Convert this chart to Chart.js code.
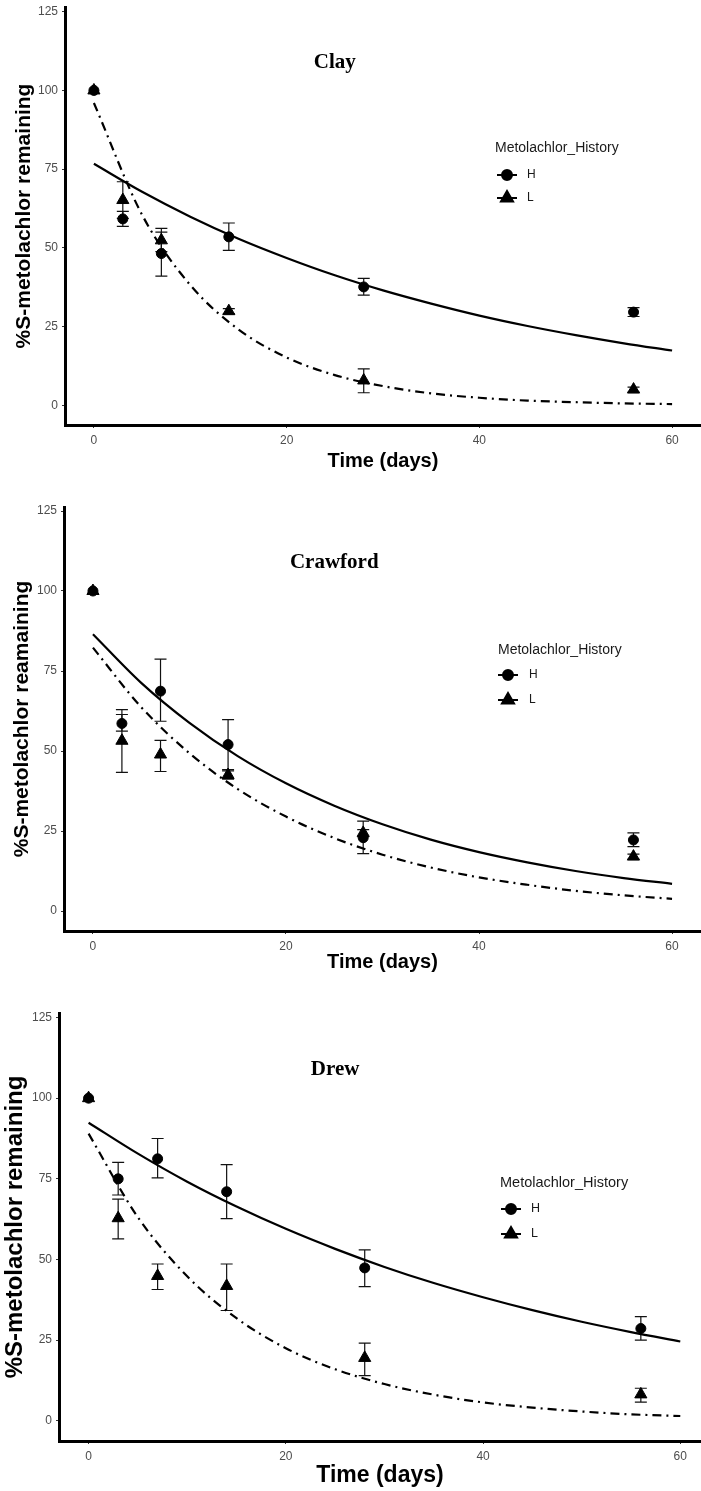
<!DOCTYPE html>
<html lang="en">
<head>
<meta charset="utf-8">
<title>%S-metolachlor remaining</title>
<script src="https://cdn.jsdelivr.net/npm/chart.js@4.4.1/dist/chart.umd.min.js"></script>
<style>
  html, body { margin: 0; padding: 0; background: #fff; }
  #wrap { width: 701px; height: 1491px; }
  canvas { display: block; }
</style>
</head>
<body>
<div id="wrap">
  <canvas id="clayChart" width="701" height="480"></canvas>
  <canvas id="crawfordChart" width="701" height="505"></canvas>
  <canvas id="drewChart" width="701" height="506"></canvas>
</div>
<script>
/* courbes de dissipation du S-metolachlor – trois sols
   1. points moyens + barres d'erreur
   2. courbes ajustées (H trait plein, L tiret-point) */

/* données communes */
const days = [0, 3, 7, 14, 28, 56];
const fitDays = [0, 5, 10, 15, 20, 25, 30, 35, 40, 45, 50, 55, 60];
const xTicks = [0, 20, 40, 60];
const yTicks = [0, 25, 50, 75, 100, 125];
const legendTitle = "Metolachlor_History";
const groups = ["H", "L"];

/* Clay */
const clayH = [100, 59.2, 48.2, 53.5, 37.6, 29.6];
const clayHLo = [100, 56.8, 41.0, 49.2, 35.0, 28.2];
const clayHHi = [100, 61.6, 55.0, 57.9, 40.3, 31.0];
const clayL = [100, 65.2, 52.4, 29.9, 7.9, 5.0];
const clayLLo = [100, 59.4, 48.8, 29.1, 4.0, 4.2];
const clayLHi = [100, 71.0, 56.2, 30.7, 11.6, 5.8];
const clayFitH = [76.7, 67.8, 59.9, 52.9, 46.8, 41.3, 36.5, 32.3, 28.5, 25.2, 22.3, 19.7, 17.4];
const clayFitL = [96.0, 60.5, 38.2, 24.1, 15.2, 9.6, 6.1, 3.8, 2.4, 1.5, 1.0, 0.6, 0.4];

/* Crawford */
const crawH = [100, 58.6, 68.7, 52.0, 22.9, 22.2];
const crawHLo = [100, 56.2, 59.3, 44.2, 17.9, 20.1];
const crawHHi = [100, 61.4, 78.7, 59.8, 28.1, 24.4];
const crawL = [100, 53.2, 48.9, 42.5, 24.4, 17.0];
const crawLLo = [100, 43.3, 43.6, 41.2, 23.2, 16.2];
const crawLHi = [100, 62.9, 53.3, 43.8, 25.4, 17.8];
const crawFitH = [86.5, 71.3, 58.8, 48.4, 39.9, 32.9, 27.1, 22.3, 18.4, 15.2, 12.5, 10.3, 8.5];
const crawFitL = [82.3, 63.7, 49.3, 38.1, 29.5, 22.8, 17.6, 13.6, 10.5, 8.2, 6.3, 4.9, 3.8];

/* Drew */
const drewH = [100, 75.0, 81.2, 71.0, 47.4, 28.6];
const drewHLo = [100, 70.0, 75.3, 62.7, 41.6, 25.0];
const drewHHi = [100, 80.1, 87.5, 79.4, 53.0, 32.3];
const drewL = [100, 62.8, 44.9, 41.8, 19.5, 8.2];
const drewLLo = [100, 56.4, 40.7, 34.2, 14.0, 5.8];
const drewLHi = [100, 68.7, 48.6, 48.6, 24.1, 10.1];
const drewFitH = [92.4, 82.8, 74.1, 66.4, 59.5, 53.3, 47.7, 42.7, 38.3, 34.3, 30.7, 27.5, 24.6];
const drewFitL = [89.0, 63.1, 44.8, 31.8, 22.5, 16.0, 11.4, 8.1, 5.7, 4.1, 2.9, 2.0, 1.5];

const sansFont = "'Liberation Sans', Arial, sans-serif";
const serifFont = "'Liberation Serif', 'Times New Roman', serif";

/* barres d'erreur (dessinées avec les échelles du graphique) */
const errorBarsPlugin = {
  id: "errorBars",
  beforeDatasetsDraw(chart) {
    const { ctx, scales: { x, y } } = chart;
    ctx.save();
    ctx.strokeStyle = "#111";
    ctx.lineWidth = 1.2;
    chart.data.datasets.forEach(ds => {
      if (!ds.errLo) return;
      ds.errLo.forEach((lo, i) => {
        const hi = ds.errHi[i];
        if (hi - lo < 0.05) return;
        const px = x.getPixelForValue(days[i]);
        const top = y.getPixelForValue(hi);
        const bottom = y.getPixelForValue(lo);
        ctx.beginPath();
        ctx.moveTo(px, top); ctx.lineTo(px, bottom);
        ctx.moveTo(px - 6, top); ctx.lineTo(px + 6, top);
        ctx.moveTo(px - 6, bottom); ctx.lineTo(px + 6, bottom);
        ctx.stroke();
      });
    });
    ctx.restore();
  }
};

/* nom du sol dans la zone du graphique */
const panelTitlePlugin = {
  id: "panelTitle",
  afterDatasetsDraw(chart, args, opts) {
    const { ctx, scales: { x, y } } = chart;
    ctx.save();
    ctx.font = "bold " + opts.size + "px " + serifFont;
    ctx.fillStyle = "#000";
    ctx.textAlign = "center";
    ctx.textBaseline = "middle";
    ctx.fillText(opts.text, x.getPixelForValue(opts.atX), y.getPixelForValue(opts.atY));
    ctx.restore();
  }
};

/* légende à l'intérieur du graphique, façon ggplot */
const insideLegendPlugin = {
  id: "insideLegend",
  afterDatasetsDraw(chart, args, opts) {
    const { ctx } = chart;
    ctx.save();
    ctx.fillStyle = "#1a1a1a";
    ctx.textBaseline = "middle";
    ctx.textAlign = "left";
    ctx.font = opts.titleSize + "px " + sansFont;
    ctx.fillText(legendTitle, opts.titleX, opts.titleY);
    const marks = chart.data.datasets.filter(ds => ds.inLegend);
    groups.forEach((g, i) => {
      const ds = marks.find(m => m.label === g);
      const yy = opts.rowY[i];
      ctx.strokeStyle = "#000";
      ctx.lineWidth = 2;
      ctx.beginPath();
      ctx.moveTo(opts.symX - 10, yy);
      ctx.lineTo(opts.symX + 10, yy);
      ctx.stroke();
      ctx.fillStyle = "#000";
      Chart.helpers.drawPoint(ctx, {
        pointStyle: ds.pointStyle, radius: ds.pointRadius, borderWidth: 1, rotation: 0
      }, opts.symX, yy);
      ctx.fillStyle = "#1a1a1a";
      ctx.font = opts.labelSize + "px " + sansFont;
      ctx.fillText(g, opts.textX, yy);
    });
    ctx.restore();
  }
};

function toPoints(xs, ys) {
  return xs.map((v, i) => ({ x: v, y: ys[i] }));
}

/* création d'un panneau */
function makeChart(p) {
  const canvas = document.getElementById(p.id);
  const L = p.layout;
  return new Chart(canvas, {
    type: "scatter",
    data: {
      datasets: [
        {
          label: "L", inLegend: true,
          data: toPoints(days, p.l), errLo: p.lLo, errHi: p.lHi,
          pointStyle: "triangle", pointRadius: 7,
          backgroundColor: "#000", borderColor: "#000", borderWidth: 1
        },
        {
          label: "H", inLegend: true,
          data: toPoints(days, p.h), errLo: p.hLo, errHi: p.hHi,
          pointStyle: "circle", pointRadius: 5,
          backgroundColor: "#000", borderColor: "#000", borderWidth: 1
        },
        {
          label: "H fit",
          data: toPoints(fitDays, p.fitH),
          showLine: true, pointRadius: 0,
          borderColor: "#000", borderWidth: 2.2,
          cubicInterpolationMode: "monotone"
        },
        {
          label: "L fit",
          data: toPoints(fitDays, p.fitL),
          showLine: true, pointRadius: 0,
          borderColor: "#000", borderWidth: 2.2, borderDash: [9, 5, 2, 5],
          cubicInterpolationMode: "monotone"
        }
      ]
    },
    options: {
      responsive: false,
      animation: false,
      events: [],
      layout: { autoPadding: false, padding: { top: L.top, right: 0, bottom: 0, left: 0 } },
      plugins: {
        legend: { display: false },
        tooltip: { enabled: false },
        panelTitle: { text: p.name, atX: 25, atY: 109, size: L.nameSize },
        insideLegend: L.legend
      },
      scales: {
        x: {
          type: "linear", min: -3, max: L.xMax,
          afterBuildTicks: s => { s.ticks = xTicks.map(v => ({ value: v })); },
          afterFit: s => { s.height = L.xHeight; s.paddingLeft = 0; s.paddingRight = 0; },
          grid: { display: true, drawOnChartArea: false, drawTicks: true, tickLength: 3, color: "#333" },
          border: { display: true, color: "#000", width: 3 },
          ticks: { color: "#4d4d4d", padding: 5, font: { family: sansFont, size: 12 } },
          title: {
            display: true, text: "Time (days)", color: "#000",
            font: { family: sansFont, size: L.xAxisSize, weight: "bold" },
            padding: { top: 0, bottom: L.xTitlePad }
          }
        },
        y: {
          type: "linear", min: -6.25, max: L.yMax,
          afterBuildTicks: s => { s.ticks = yTicks.map(v => ({ value: v })); },
          afterFit: s => { s.width = L.yWidth; s.paddingTop = 0; s.paddingBottom = 0; },
          grid: { display: true, drawOnChartArea: false, drawTicks: true, tickLength: 3, color: "#333" },
          border: { display: true, color: "#000", width: 3 },
          ticks: { color: "#4d4d4d", padding: 4, font: { family: sansFont, size: 12 } },
          title: {
            display: true, text: p.yTitle, color: "#000",
            font: { family: sansFont, size: L.yAxisSize, weight: "bold" },
            padding: { top: L.yTitlePad, bottom: 0 }
          }
        }
      }
    },
    plugins: [errorBarsPlugin, panelTitlePlugin, insideLegendPlugin]
  });
}

makeChart({
  id: "clayChart", name: "Clay", yTitle: "%S-metolachlor remaining",
  h: clayH, hLo: clayHLo, hHi: clayHHi, l: clayL, lLo: clayLLo, lHi: clayLHi,
  fitH: clayFitH, fitL: clayFitL,
  layout: {
    top: 7, yWidth: 65, xHeight: 55, yMax: 126.5, xMax: 63,
    yTitlePad: 12, xTitlePad: 7, xAxisSize: 20, yAxisSize: 21, nameSize: 21,
    legend: { titleX: 495, titleY: 148, symX: 507, textX: 527, rowY: [175, 198], titleSize: 14, labelSize: 12 }
  }
});

makeChart({
  id: "crawfordChart", name: "Crawford", yTitle: "%S-metolachlor reamaining",
  h: crawH, hLo: crawHLo, hHi: crawHHi, l: crawL, lLo: crawLLo, lHi: crawLHi,
  fitH: crawFitH, fitL: crawFitL,
  layout: {
    top: 27, yWidth: 64, xHeight: 54, yMax: 126.25, xMax: 63,
    yTitlePad: 10, xTitlePad: 11, xAxisSize: 20, yAxisSize: 21, nameSize: 21,
    legend: { titleX: 498, titleY: 170, symX: 508, textX: 529, rowY: [195, 220], titleSize: 14, labelSize: 12 }
  }
});

makeChart({
  id: "drewChart", name: "Drew", yTitle: "%S-metolachlor remaining",
  h: drewH, hLo: drewHLo, hHi: drewHHi, l: drewL, lLo: drewLLo, lHi: drewLHi,
  fitH: drewFitH, fitL: drewFitL,
  layout: {
    top: 28, yWidth: 59, xHeight: 50, yMax: 126.4, xMax: 62.1,
    yTitlePad: 1, xTitlePad: 2, xAxisSize: 23, yAxisSize: 24, nameSize: 21,
    legend: { titleX: 500, titleY: 198, symX: 511, textX: 531, rowY: [224, 249], titleSize: 14.5, labelSize: 12.5 }
  }
});
</script>
</body>
</html>
